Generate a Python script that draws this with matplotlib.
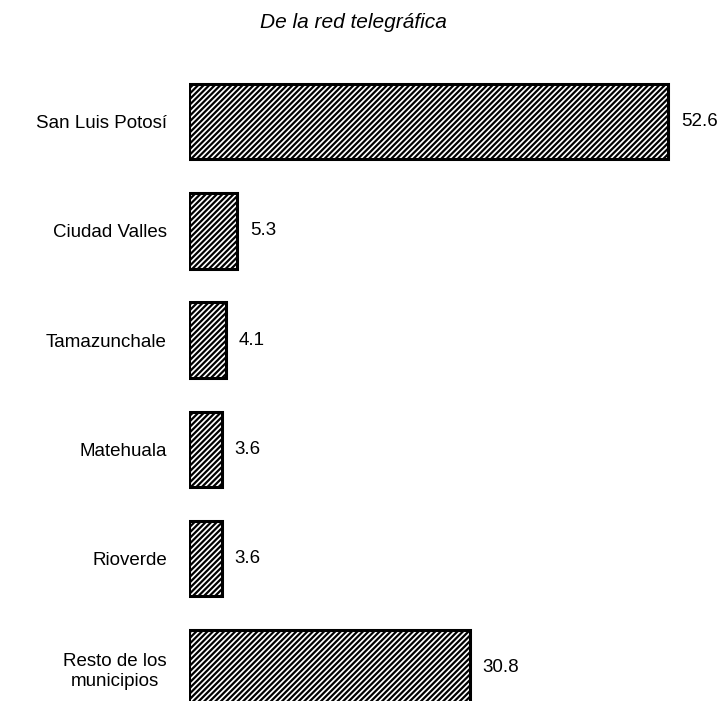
import matplotlib.pyplot as plt

plt.rcParams['font.family'] = ['Liberation Sans', 'DejaVu Sans']
plt.rcParams['hatch.linewidth'] = 1.6

municipios = ["San Luis Potosí", "Ciudad Valles", "Tamazunchale",
              "Matehuala", "Rioverde", "Resto de los\nmunicipios"]
porcentajes = [52.6, 5.3, 4.1, 3.6, 3.6, 30.8]
etiquetas = ["52.6", "5.3", "4.1", "3.6", "3.6", "30.8"]

fig = plt.figure(figsize=(7.25, 7.01), dpi=100)
ax = fig.add_axes([189 / 725, 0.0, 1 - 189 / 725, 0.9])

pos = list(range(len(municipios)))
ax.barh(pos, porcentajes, height=0.69, color='white', edgecolor='black',
        linewidth=2.2, hatch='//////')

for y, v, t in zip(pos, porcentajes, etiquetas):
    ax.text(v + 1.4, y, t, va='center', ha='left', fontsize=13.5)

ax.set_xlim(0, (725 - 189) / 9.11)
ax.set_ylim(5.302, -0.471)
ax.set_yticks(pos)
ax.set_yticklabels(municipios, fontsize=13.5)
for lbl in ax.get_yticklabels():
    lbl.set_multialignment('center')
ax.tick_params(axis='y', length=0, pad=16)
ax.set_xticks([])
for s in ax.spines.values():
    s.set_visible(False)

fig.text(353 / 725, 1 - 22 / 701, "De la red telegráfica", ha='center',
         va='center', fontsize=15, style='italic')

fig.savefig("out.png", dpi=100)
